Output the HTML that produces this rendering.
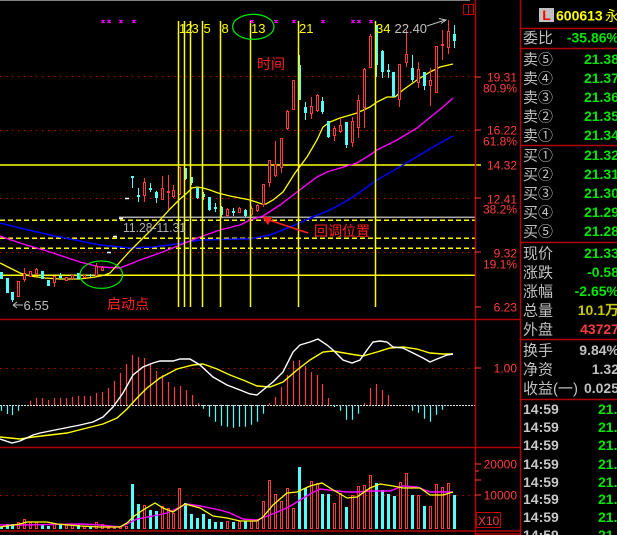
<!DOCTYPE html>
<html><head><meta charset="utf-8">
<style>
html,body{margin:0;padding:0;background:#000;width:617px;height:535px;overflow:hidden}
svg{display:block}
text{font-family:"Liberation Sans","Noto Sans CJK SC",sans-serif}
</style></head><body>
<svg width="617" height="535" viewBox="0 0 617 535" xmlns="http://www.w3.org/2000/svg">
<rect width="617" height="535" fill="#000"/>
<rect x="0" y="0" width="470" height="1" fill="#808080"/>

<!-- dotted grid -->
<path d="M0 76.5H475M0 130.5H475M0 198.5H475M0 252.5H475M0 368.5H475M0 495.5H475" stroke="#c00000" stroke-width="1" stroke-dasharray="1.5 4.5" fill="none"/>
<path d="M0 405.5H475" stroke="#e0e0e0" stroke-width="1" stroke-dasharray="2 1" fill="none"/>

<!-- horizontal lines -->
<path d="M0 165H481M0 275.3H475" stroke="#ffff00" stroke-width="1.5" fill="none"/>
<path d="M119 217.3H475" stroke="#a8a8a8" stroke-width="1.5" fill="none"/>
<path d="M0 220.3H475M0 238.3H475M0 248.3H475" stroke="#ffff00" stroke-width="1.5" stroke-dasharray="5 3" fill="none"/>

<!-- MA lines main -->
<polyline fill="none" stroke="#0000ff" stroke-width="1.5" points="0,223 20,228 50,235 70,239 100,245 130,248 153,247 170,245 187,242 200,240 240,239 250,239 270,235 290,227 313,217 330,210 350,199 363,190 377,180 403,165 423,153 440,143 453,136"/>
<polyline fill="none" stroke="#ff00ff" stroke-width="1.4" points="0,236 20,243 50,252 80,262 100,267 120,268 140,260 160,253 180,245 200,237 220,230 240,225 250,220 263,216 280,205 297,192 317,177 327,172 347,166 357,163 370,155 377,150 397,140 417,128 433,115 443,107 453,98"/>
<polyline fill="none" stroke="#ffff00" stroke-width="1.3" points="0,263 10,268 20,273 30,276 45,278 60,279 80,279 95,277 100,276 105,275 110,273 120,262 130,251 140,241 150,231 160,220 170,209 180,199 187,193 192,188 197,187 203,188 210,190 218,193 230,196 250,200 262,204 266,204 273,200 283,192 295,173 307,157 317,140 323,127 330,122 340,118 357,113 370,107 377,102 387,97 395,97 403,90 417,80 430,72 440,67 453,64"/>

<!-- red candles -->
<g stroke="#ff3c3c" stroke-width="1" fill="#000">
<path fill="none" d="M18.5 281V297M24.5 268V282M30.5 271V277M36.5 268V275M54.5 276V287M66.5 277V281M72.5 275V279M84.5 275V278M96.5 263V276M102.5 266V271M144.5 178V202M162.5 176V200M168.5 175V210M173.5 185V198M179.5 167V195M227.5 208V217M239.5 207V213M251.5 206V216M257.5 204V212M263.5 184V207M269.5 160V187M275.5 141V177M281.5 138V173M287.5 110V130M293.5 80V110M311.5 97V119M317.5 94V112M334.5 126V141M340.5 118V133M352.5 117V147M358.5 95V138M364.5 68V128M370.5 34V68M399.5 64V107M406.5 30V67M418.5 62V88M430.5 68V106M436.5 46V93M442.5 30V60M448.5 20V54"/>
<rect x="17.5" y="281.5" width="2" height="15"/>
<rect x="23.5" y="273.5" width="2" height="6"/>
<rect x="29.5" y="271.5" width="2" height="5"/>
<rect x="35.5" y="269.5" width="2" height="4"/>
<rect x="53.5" y="276.5" width="2" height="6"/>
<rect x="65.5" y="277.5" width="2" height="3"/>
<rect x="71.5" y="275.5" width="2" height="3"/>
<rect x="83.5" y="275.5" width="2" height="2"/>
<rect x="95.5" y="266.5" width="2" height="9"/>
<rect x="101.5" y="267.5" width="2" height="3"/>
<rect x="143.5" y="182.5" width="2" height="13"/>
<rect x="161.5" y="188.5" width="2" height="11"/>
<rect x="167.5" y="191.5" width="2" height="1"/>
<rect x="172.5" y="190.5" width="2" height="6"/>
<rect x="178.5" y="167.5" width="2" height="27"/>
<rect x="226.5" y="209.5" width="2" height="6"/>
<rect x="238.5" y="208.5" width="2" height="4"/>
<rect x="250.5" y="208.5" width="2" height="6"/>
<rect x="256.5" y="205.5" width="2" height="5"/>
<rect x="262.5" y="184.5" width="2" height="20"/>
<rect x="268.5" y="160.5" width="2" height="22"/>
<rect x="274.5" y="164.5" width="2" height="11"/>
<rect x="280.5" y="138.5" width="2" height="29"/>
<rect x="286.5" y="111.5" width="2" height="17"/>
<rect x="292.5" y="80.5" width="2" height="29"/>
<rect x="310.5" y="106.5" width="2" height="7"/>
<rect x="316.5" y="95.5" width="2" height="15"/>
<rect x="333.5" y="128.5" width="2" height="7"/>
<rect x="339.5" y="125.5" width="2" height="6"/>
<rect x="351.5" y="121.5" width="2" height="21"/>
<rect x="357.5" y="100.5" width="2" height="27"/>
<rect x="363.5" y="69.5" width="2" height="38"/>
<rect x="369.5" y="36.5" width="2" height="31"/>
<rect x="398.5" y="64.5" width="2" height="35"/>
<rect x="405.5" y="54.5" width="2" height="8"/>
<rect x="417.5" y="69.5" width="2" height="13"/>
<rect x="429.5" y="80.5" width="2" height="5"/>
<rect x="435.5" y="46.5" width="2" height="46"/>
<rect x="441.5" y="44.5" width="2" height="1"/>
<rect x="447.5" y="31.5" width="2" height="16"/>
</g>

<!-- cyan candles -->
<g fill="#54fcfc">
<path fill="none" stroke="#54fcfc" stroke-width="1" d="M1.5 272V279M7.5 278V293M12.5 292V302M42.5 271V279M48.5 280V286M60.5 273V279M78.5 273V279M90.5 274V277M132.5 176V188M138.5 188V202M150.5 183V192M156.5 191V203M185.5 168V180M191.5 177V185M197.5 187V199M203.5 192V200M209.5 197V211M215.5 203V212M221.5 206V217M233.5 208V216M245.5 209V217M299.5 55V100M305.5 102V120M322.5 97V114M328.5 121V138M346.5 122V148M376.5 25V77M382.5 50V78M388.5 64V78M393.5 72V97M412.5 55V82M424.5 72V90M454.5 25V48"/>
<rect x="0" y="272" width="3" height="7"/>
<rect x="6" y="278" width="3" height="15"/>
<rect x="11" y="292" width="3" height="8"/>
<rect x="41" y="271" width="3" height="8"/>
<rect x="47" y="280" width="3" height="6"/>
<rect x="59" y="276" width="3" height="2"/>
<rect x="77" y="273" width="3" height="6"/>
<rect x="89" y="275" width="3" height="1"/>
<rect x="131" y="176" width="3" height="2"/>
<rect x="137" y="195" width="3" height="2"/>
<rect x="149" y="188" width="3" height="2"/>
<rect x="155" y="192" width="3" height="6"/>
<rect x="184" y="168" width="3" height="11"/>
<rect x="190" y="177" width="3" height="6"/>
<rect x="196" y="188" width="3" height="10"/>
<rect x="202" y="194" width="3" height="3"/>
<rect x="208" y="197" width="3" height="13"/>
<rect x="214" y="207" width="3" height="2"/>
<rect x="220" y="207" width="3" height="8"/>
<rect x="232" y="211" width="3" height="2"/>
<rect x="244" y="210" width="3" height="6"/>
<rect x="298" y="65" width="3" height="35"/>
<rect x="304" y="107" width="3" height="6"/>
<rect x="321" y="101" width="3" height="11"/>
<rect x="327" y="121" width="3" height="16"/>
<rect x="345" y="122" width="3" height="23"/>
<rect x="375" y="25" width="3" height="40"/>
<rect x="381" y="51" width="3" height="21"/>
<rect x="387" y="70" width="3" height="2"/>
<rect x="392" y="72" width="3" height="25"/>
<rect x="411" y="68" width="3" height="12"/>
<rect x="423" y="72" width="3" height="14"/>
<rect x="453" y="34" width="3" height="7"/>
</g>
<path d="M107 252.5h4M113 236.5h4M119 218.5h4M125 198.5h4" stroke="#fff" stroke-width="1.5" fill="none"/>

<!-- vertical yellow lines -->
<path d="M178.5 21V307M184.5 21V307M190.5 21V307M202.5 21V307M220.5 21V307M250.5 21V307M298.5 21V307M375.5 21V307" stroke="#ffff00" stroke-width="1.5" fill="none"/>
<g fill="#ffff00" font-size="13">
<text x="179" y="33">1</text><text x="185.5" y="33">2</text><text x="191.5" y="33">3</text>
<text x="203.5" y="33">5</text><text x="221.5" y="33">8</text>
<text x="251" y="33">13</text><text x="299" y="33">21</text><text x="376" y="33">34</text>
</g>
<text x="394.5" y="33" fill="#c0c0c0" font-size="13">22.40</text>
<path d="M427 26L445 20M439 18.5L446 20L441 23.5" stroke="#c0c0c0" stroke-width="1" fill="none"/>

<!-- magenta x marks -->
<g stroke="#ff00ff" stroke-width="1.4">
<path d="M101.5 20l3 3m0 -3l-3 3M107.5 20l3 3m0 -3l-3 3M119.5 20l3 3m0 -3l-3 3M132.5 20l3 3m0 -3l-3 3M250.5 20l3 3m0 -3l-3 3M274.5 20l3 3m0 -3l-3 3M292.5 20l3 3m0 -3l-3 3M321.5 20l3 3m0 -3l-3 3M351.5 20l3 3m0 -3l-3 3M357.5 20l3 3m0 -3l-3 3M369.5 20l3 3m0 -3l-3 3"/>
</g>

<!-- ellipses -->
<ellipse cx="253.3" cy="26.8" rx="20.7" ry="12.5" fill="none" stroke="#00e000" stroke-width="1.3"/>
<ellipse cx="101.3" cy="274.7" rx="21.3" ry="13.7" fill="none" stroke="#00e000" stroke-width="1.3"/>

<!-- annotations -->
<text x="123" y="232" fill="#b0b0b0" font-size="13" textLength="63" lengthAdjust="spacingAndGlyphs">11.28-11.31</text>
<path d="M13 305H23M13 305L17 302M13 305L17 308" stroke="#c0c0c0" stroke-width="1" fill="none"/>
<text x="23.5" y="310" fill="#c0c0c0" font-size="13">6.55</text>
<text x="257" y="69" fill="#ff2020" font-size="14">时间</text>
<text x="314" y="236" fill="#ff2020" font-size="14">回调位置</text>
<text x="107" y="309" fill="#ff2020" font-size="14">启动点</text>
<path d="M308 233L266 219" stroke="#ff2020" stroke-width="1.5"/>
<polygon points="262,217 272,217 268,225" fill="#ff2020"/>
<rect x="463.5" y="4.5" width="10" height="10" fill="none" stroke="#c00000" stroke-width="1"/>
<path d="M468.5 4.5V14.5" stroke="#c00000"/>

<!-- MACD -->
<path fill="none" stroke="#ff3c3c" stroke-width="1.2" d="M30.5 405V400.7M36.5 405V398M42.5 405V398M48.5 405V400M54.5 405V398M60.5 405V398M66.5 405V398M72.5 405V397M78.5 405V396M84.5 405V396M90.5 405V396M96.5 405V393M102.5 405V392M108.5 405V388M114.5 405V381M120.5 405V373M126.5 405V364M132.5 405V355M138.5 405V357M144.5 405V358M150.5 405V363M156.5 405V371M162.5 405V375M168.5 405V382M174.5 405V387M180.5 405V386M186.5 405V390M192.5 405V395M198.5 405V403M269.5 405V403M275.5 405V397M281.5 405V387M287.5 405V375M293.5 405V361M299.5 405V360M305.5 405V366M311.5 405V372M317.5 405V375M322.5 405V384M328.5 405V398M364.5 405V403M370.5 405V388M376.5 405V384M382.5 405V390M388.5 405V395"/>
<path fill="none" stroke="#54fcfc" stroke-width="1.2" d="M1.5 405V410.7M7.5 405V414M12.5 405V415M18.5 405V410.7M203.5 405V408.7M209.5 405V416.7M215.5 405V421.7M221.5 405V425.7M227.5 405V426.7M233.5 405V427.7M239.5 405V426.7M245.5 405V426.7M251.5 405V424.7M257.5 405V421.7M263.5 405V413.7M334.5 405V407M340.5 405V410.7M346.5 405V419.7M352.5 405V419.7M358.5 405V413.7M412.5 405V410.7M418.5 405V412.7M424.5 405V418.7M430.5 405V421.7M436.5 405V414.7M442.5 405V409.7"/>
<polyline fill="none" stroke="#ffff00" stroke-width="1.4" points="0,437 10,438 20,439 33,437 50,435 67,433 87,428 103,424 117,418 127,409 137,398 147,388 160,378 177,369 193,365 203,364 217,369 230,375 243,380 257,386 270,387 283,382 297,370 310,360 323,352 333,351 350,354 363,356 377,352 390,348 403,347 417,349 430,353 443,354 453,354"/>
<polyline fill="none" stroke="#ffffff" stroke-width="1.4" points="0,439 12,443 20,441 33,435 40,433 50,431 60,429 80,425 93,422 103,417 113,407 123,393 133,375 143,367 153,363 160,361 173,361 180,359 190,359 200,365 213,377 227,385 240,390 250,394 257,395 263,390 273,382 283,372 293,352 300,345 310,342 318,339 327,345 333,350 343,360 352,363 360,360 367,350 373,342 380,341 387,342 393,347 403,348 413,353 423,358 430,362 437,359 447,355 453,354"/>

<!-- Volume -->
<g fill="#54fcfc">
<rect x="0" y="527" width="3" height="2"/><rect x="6" y="524" width="3" height="5"/><rect x="11" y="524" width="3" height="5"/><rect x="41" y="524" width="3" height="5"/><rect x="47" y="526" width="3" height="3"/><rect x="59" y="525" width="3" height="4"/><rect x="77" y="525" width="3" height="4"/><rect x="89" y="527" width="3" height="2"/>
<rect x="131" y="484" width="3" height="45"/><rect x="137" y="504" width="3" height="25"/><rect x="149" y="510" width="3" height="19"/><rect x="155" y="511" width="3" height="18"/><rect x="184" y="503" width="3" height="26"/><rect x="190" y="514" width="3" height="15"/><rect x="196" y="518" width="3" height="11"/><rect x="202" y="514" width="3" height="15"/><rect x="208" y="519" width="3" height="10"/><rect x="214" y="522" width="3" height="7"/><rect x="220" y="522" width="3" height="7"/><rect x="232" y="522" width="3" height="7"/><rect x="244" y="521" width="3" height="8"/>
<rect x="298" y="467" width="3" height="62"/><rect x="304" y="488" width="3" height="41"/><rect x="321" y="494" width="3" height="35"/><rect x="327" y="494" width="3" height="35"/><rect x="345" y="507" width="3" height="22"/><rect x="375" y="483" width="3" height="46"/><rect x="381" y="490" width="3" height="39"/><rect x="387" y="494" width="3" height="35"/><rect x="393" y="496" width="3" height="33"/><rect x="411" y="495" width="3" height="34"/><rect x="423" y="506" width="3" height="23"/><rect x="453" y="495" width="3" height="34"/>
</g>
<g fill="none" stroke="#ff3c3c" stroke-width="1">
<rect x="17.5" y="522.5" width="2" height="6"/><rect x="23.5" y="519.5" width="2" height="9"/><rect x="29.5" y="522.5" width="2" height="6"/><rect x="35.5" y="522.5" width="2" height="6"/><rect x="53.5" y="524.5" width="2" height="4"/><rect x="65.5" y="525.5" width="2" height="3"/><rect x="71.5" y="525.5" width="2" height="3"/><rect x="83.5" y="526.5" width="2" height="2"/><rect x="95.5" y="522.5" width="2" height="6"/><rect x="101.5" y="524.5" width="2" height="4"/><rect x="107.5" y="527.5" width="2" height="1"/><rect x="113.5" y="527.5" width="2" height="1"/><rect x="119.5" y="526.5" width="2" height="2"/><rect x="125.5" y="526.5" width="2" height="2"/>
<rect x="143.5" y="505.5" width="2" height="23"/><rect x="161.5" y="506.5" width="2" height="22"/><rect x="167.5" y="508.5" width="2" height="20"/><rect x="172.5" y="513.5" width="2" height="15"/><rect x="178.5" y="488.5" width="2" height="40"/>
<rect x="226.5" y="521.5" width="2" height="7"/><rect x="238.5" y="521.5" width="2" height="7"/><rect x="250.5" y="521.5" width="2" height="7"/><rect x="256.5" y="519.5" width="2" height="9"/><rect x="262.5" y="501.5" width="2" height="27"/><rect x="268.5" y="480.5" width="2" height="48"/><rect x="274.5" y="494.5" width="2" height="34"/><rect x="280.5" y="501.5" width="2" height="27"/><rect x="286.5" y="488.5" width="2" height="40"/><rect x="292.5" y="508.5" width="2" height="20"/>
<rect x="310.5" y="481.5" width="2" height="47"/><rect x="316.5" y="483.5" width="2" height="45"/><rect x="333.5" y="503.5" width="2" height="25"/><rect x="339.5" y="493.5" width="2" height="35"/><rect x="351.5" y="495.5" width="2" height="33"/><rect x="357.5" y="486.5" width="2" height="42"/><rect x="363.5" y="485.5" width="2" height="43"/><rect x="369.5" y="475.5" width="2" height="53"/>
<rect x="399.5" y="482.5" width="2" height="46"/><rect x="405.5" y="473.5" width="2" height="55"/><rect x="417.5" y="495.5" width="2" height="33"/><rect x="429.5" y="506.5" width="2" height="22"/><rect x="435.5" y="484.5" width="2" height="44"/><rect x="441.5" y="487.5" width="2" height="41"/><rect x="447.5" y="483.5" width="2" height="45"/>
</g>
<polyline fill="none" stroke="#ff00ff" stroke-width="1.4" points="0,525 20,525 80,524 100,525 120,527 127,524 137,519 153,516 167,513 180,507 187,504 200,506 220,510 230,513 243,519 257,520 270,515 287,508 297,502 310,494 320,489 337,491 347,492 357,492 370,491 390,491 403,486 417,487 430,492 453,492"/>
<polyline fill="none" stroke="#ffff00" stroke-width="1.3" points="0,527 20,524 27,522 47,522 57,524 80,526 100,527 120,527 127,523 133,517 143,510 155,503 163,508 173,512 185,504 200,508 213,516 227,518 240,521 257,521 263,517 273,505 287,493 297,492 310,486 322,483 330,488 347,498 357,497 370,488 380,484 393,486 403,488 420,488 430,495 443,495 453,492"/>

<!-- panel borders -->
<g stroke="#b40000" stroke-width="1.5" fill="none">
<path d="M475.5 0V535M520.5 0V535M0 319.5H520M0 447.5H520M0 531H520M476 534H520"/>
<path d="M520 28.5H617M520 48.5H617M520 145.5H617M520 242.5H617M520 339.5H617M520 399.5H617"/>
</g>
<!-- axis ticks -->
<path d="M475 77H481M475 130H481M475 198H481M475 252H481M475 307H481M475 368H481M475 464H481M475 471H479M475 480H481M475 495H481" stroke="#ff3c3c" stroke-width="1"/>
<g fill="#ff3c3c" font-size="12" text-anchor="end">
<text x="517" y="81.5">19.31</text><text x="517" y="92.5">80.9%</text>
<text x="517" y="134.5">16.22</text><text x="517" y="145.5">61.8%</text>
<text x="517" y="169.5">14.32</text>
<text x="517" y="203.5">12.41</text><text x="517" y="213.5">38.2%</text>
<text x="517" y="257.5">9.32</text><text x="517" y="268.5">19.1%</text>
<text x="517" y="311.5">6.23</text>
<text x="517" y="372.5">1.00</text>
<text x="517" y="468.5">20000</text><text x="517" y="499.5">10000</text>
</g>
<rect x="476.5" y="512.5" width="24" height="15" fill="none" stroke="#c00000" stroke-width="1"/>
<text x="478" y="525" fill="#ff3c3c" font-size="12">X10</text>

<!-- right panel -->
<rect x="539" y="8" width="15" height="14" fill="#c0c0c0"/>
<text x="546.5" y="20" fill="#ff0000" font-weight="bold" font-size="14" text-anchor="middle">L</text>
<text x="556" y="20.5" fill="#ffff00" font-weight="bold" font-size="14">600613</text>
<text x="605" y="21" fill="#ffff00" font-size="14">永生</text>

<g fill="#c0c0c0" font-size="15">
<text x="523" y="43">委比</text>
<text x="523" y="64.5">卖⑤</text><text x="523" y="83.5">卖④</text><text x="523" y="102.5">卖③</text><text x="523" y="121.5">卖②</text><text x="523" y="140.5">卖①</text>
<text x="523" y="160.5">买①</text><text x="523" y="179.5">买②</text><text x="523" y="198.5">买③</text><text x="523" y="217.5">买④</text><text x="523" y="236.5">买⑤</text>
<text x="523" y="258.5">现价</text><text x="523" y="277.5">涨跌</text><text x="523" y="296.5">涨幅</text><text x="523" y="315.5">总量</text><text x="523" y="334.5">外盘</text>
<text x="523" y="355.5">换手</text><text x="523" y="374.5">净资</text><text x="523" y="393.5">收益(一)</text>
</g>
<g fill="#00e600" font-size="14" font-weight="bold" text-anchor="end">
<text x="619" y="42.5">-35.86%</text>
<text x="619" y="64">21.38</text><text x="619" y="83">21.37</text><text x="619" y="102">21.36</text><text x="619" y="121">21.35</text><text x="619" y="140">21.34</text>
<text x="619" y="160">21.32</text><text x="619" y="179">21.31</text><text x="619" y="198">21.30</text><text x="619" y="217">21.29</text><text x="619" y="236">21.28</text>
<text x="619" y="258">21.33</text><text x="619" y="277">-0.58</text><text x="619" y="296">-2.65%</text>
</g>
<g font-size="14" font-weight="bold" text-anchor="end">
<text x="619" y="315" fill="#c8c800">10.1万</text>
<text x="619" y="334" fill="#ff3c3c">43727</text>
<text x="619" y="355" fill="#c0c0c0">9.84%</text>
<text x="619" y="374" fill="#c0c0c0">1.32</text>
<text x="619" y="393" fill="#c0c0c0">0.025</text>
</g>
<g font-size="14" font-weight="bold" fill="#c8c8c8">
<text x="523" y="414">14:59</text><text x="523" y="432">14:59</text><text x="523" y="450">14:59</text><text x="523" y="469">14:59</text><text x="523" y="487">14:59</text><text x="523" y="504">14:59</text><text x="523" y="522">14:59</text><text x="523" y="540">14:59</text>
</g>
<g font-size="14" font-weight="bold" fill="#00e600">
<text x="598" y="414">21.33</text><text x="598" y="432">21.33</text><text x="598" y="450">21.33</text><text x="598" y="469">21.33</text><text x="598" y="487">21.33</text><text x="598" y="504">21.33</text><text x="598" y="522">21.33</text><text x="598" y="540">21.33</text>
</g>
</svg>
</body></html>
